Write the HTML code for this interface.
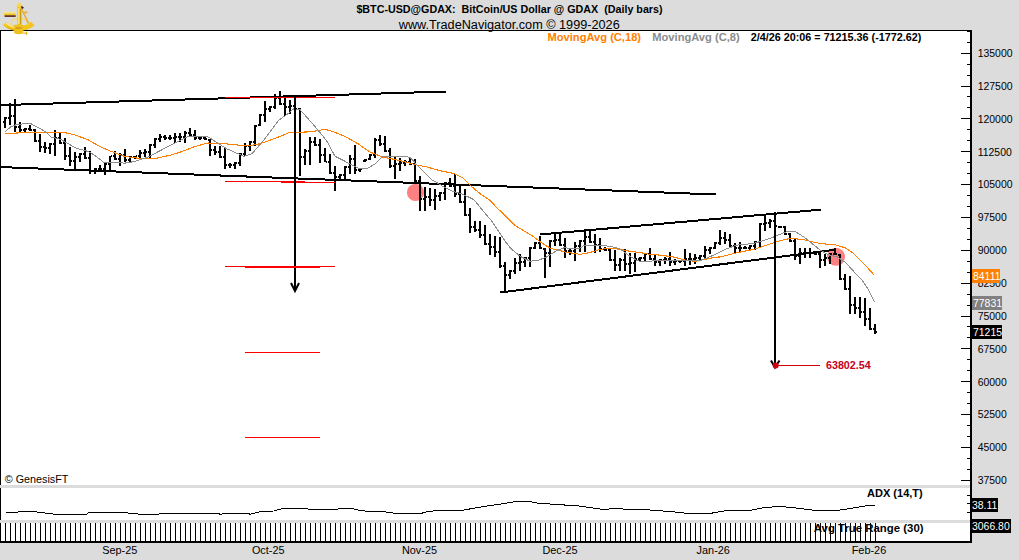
<!DOCTYPE html>
<html><head><meta charset="utf-8"><style>
html,body{margin:0;padding:0;background:#dcdcdc;}
body{width:1019px;height:560px;overflow:hidden;position:relative;font-family:"Liberation Sans",sans-serif;}
svg{position:absolute;left:0;top:0;display:block;}
</style></head><body>
<svg width="1019" height="560" viewBox="0 0 1019 560">
<rect x="1" y="31" width="969" height="510" fill="#fff"/>
<rect x="0" y="485" width="970" height="3" fill="#dcdcdc"/>
<rect x="0" y="520" width="970" height="3" fill="#dcdcdc"/>
<rect x="0" y="30" width="972" height="1" fill="#000"/>
<rect x="0" y="31" width="1" height="454" fill="#000"/>
<rect x="0" y="488" width="1" height="32" fill="#000"/>
<rect x="0" y="523" width="1" height="20" fill="#000"/>
<rect x="970" y="30" width="2" height="513" fill="#000"/>
<rect x="0" y="541" width="972" height="2" fill="#000"/>
<rect x="967" y="31" width="3" height="1" fill="#000"/>
<rect x="967" y="42" width="3" height="1" fill="#000"/>
<rect x="961" y="53" width="9" height="1" fill="#000"/>
<rect x="967" y="64" width="3" height="1" fill="#000"/>
<rect x="967" y="75" width="3" height="1" fill="#000"/>
<rect x="961" y="86" width="9" height="1" fill="#000"/>
<rect x="967" y="96" width="3" height="1" fill="#000"/>
<rect x="967" y="107" width="3" height="1" fill="#000"/>
<rect x="961" y="118" width="9" height="1" fill="#000"/>
<rect x="967" y="129" width="3" height="1" fill="#000"/>
<rect x="967" y="140" width="3" height="1" fill="#000"/>
<rect x="961" y="151" width="9" height="1" fill="#000"/>
<rect x="967" y="162" width="3" height="1" fill="#000"/>
<rect x="967" y="173" width="3" height="1" fill="#000"/>
<rect x="961" y="184" width="9" height="1" fill="#000"/>
<rect x="967" y="195" width="3" height="1" fill="#000"/>
<rect x="967" y="206" width="3" height="1" fill="#000"/>
<rect x="961" y="217" width="9" height="1" fill="#000"/>
<rect x="967" y="228" width="3" height="1" fill="#000"/>
<rect x="967" y="239" width="3" height="1" fill="#000"/>
<rect x="961" y="250" width="9" height="1" fill="#000"/>
<rect x="967" y="261" width="3" height="1" fill="#000"/>
<rect x="967" y="272" width="3" height="1" fill="#000"/>
<rect x="961" y="283" width="9" height="1" fill="#000"/>
<rect x="967" y="294" width="3" height="1" fill="#000"/>
<rect x="967" y="305" width="3" height="1" fill="#000"/>
<rect x="961" y="316" width="9" height="1" fill="#000"/>
<rect x="967" y="326" width="3" height="1" fill="#000"/>
<rect x="967" y="337" width="3" height="1" fill="#000"/>
<rect x="961" y="348" width="9" height="1" fill="#000"/>
<rect x="967" y="359" width="3" height="1" fill="#000"/>
<rect x="967" y="370" width="3" height="1" fill="#000"/>
<rect x="961" y="381" width="9" height="1" fill="#000"/>
<rect x="967" y="392" width="3" height="1" fill="#000"/>
<rect x="967" y="403" width="3" height="1" fill="#000"/>
<rect x="961" y="414" width="9" height="1" fill="#000"/>
<rect x="967" y="425" width="3" height="1" fill="#000"/>
<rect x="967" y="436" width="3" height="1" fill="#000"/>
<rect x="961" y="447" width="9" height="1" fill="#000"/>
<rect x="967" y="458" width="3" height="1" fill="#000"/>
<rect x="967" y="469" width="3" height="1" fill="#000"/>
<rect x="961" y="480" width="9" height="1" fill="#000"/>
<rect x="967" y="469" width="3" height="1" fill="#000"/>
<rect x="967" y="495" width="3" height="1" fill="#000"/>
<rect x="967" y="503" width="3" height="1" fill="#000"/>
<rect x="967" y="512" width="3" height="1" fill="#000"/>
<circle cx="415.5" cy="192.4" r="8.6" fill="#ff8080"/>
<circle cx="836" cy="256.8" r="9" fill="#ff8080"/>
<line x1="0" y1="105.14" x2="446" y2="91.54" stroke="#000" stroke-width="2" shape-rendering="crispEdges"/>
<line x1="0" y1="167.06" x2="716" y2="194.51" stroke="#000" stroke-width="2" shape-rendering="crispEdges"/>
<line x1="500.1" y1="292.53" x2="835.4" y2="249.72" stroke="#000" stroke-width="2" shape-rendering="crispEdges"/>
<line x1="540.1" y1="234.48" x2="821" y2="209.62" stroke="#000" stroke-width="2" shape-rendering="crispEdges"/>
<path d="M4 117h2v11h-2zM3 121h1v2h-1zM6 117h1v2h-1zM9 103h2v22h-2zM8 117h1v2h-1zM11 115h1v2h-1zM14 99h2v33h-2zM13 115h1v2h-1zM16 126h1v2h-1zM19 122h2v10h-2zM18 126h1v2h-1zM21 129h1v2h-1zM24 128h2v4h-2zM23 129h1v2h-1zM26 128h1v2h-1zM29 125h2v6h-2zM28 128h1v2h-1zM31 129h1v2h-1zM34 129h2v13h-2zM33 129h1v2h-1zM36 140h1v2h-1zM39 134h2v18h-2zM38 140h1v2h-1zM41 146h1v2h-1zM44 142h2v11h-2zM43 146h1v2h-1zM46 147h1v2h-1zM49 143h2v11h-2zM48 147h1v2h-1zM51 143h1v2h-1zM54 130h2v26h-2zM53 143h1v2h-1zM56 137h1v2h-1zM59 133h2v11h-2zM58 137h1v2h-1zM61 142h1v2h-1zM64 138h2v22h-2zM63 142h1v2h-1zM66 155h1v2h-1zM69 147h2v19h-2zM68 155h1v2h-1zM71 160h1v2h-1zM74 152h2v17h-2zM73 160h1v2h-1zM76 156h1v2h-1zM79 153h2v9h-2zM78 156h1v2h-1zM81 153h1v2h-1zM84 147h2v12h-2zM83 153h1v2h-1zM86 157h1v2h-1zM89 151h2v23h-2zM88 157h1v2h-1zM91 170h1v2h-1zM94 168h2v6h-2zM93 170h1v2h-1zM96 168h1v2h-1zM99 165h2v7h-2zM98 168h1v2h-1zM101 168h1v2h-1zM104 163h2v12h-2zM103 168h1v2h-1zM106 163h1v2h-1zM109 156h2v14h-2zM108 163h1v2h-1zM111 155h1v2h-1zM114 151h2v9h-2zM113 155h1v2h-1zM116 158h1v2h-1zM119 153h2v13h-2zM118 158h1v2h-1zM121 154h1v2h-1zM124 149h2v13h-2zM123 154h1v2h-1zM126 159h1v2h-1zM129 156h2v7h-2zM128 159h1v2h-1zM131 156h1v2h-1zM134 156h2v3h-2zM133 156h1v2h-1zM136 155h1v2h-1zM139 150h2v9h-2zM138 155h1v2h-1zM141 152h1v2h-1zM144 149h2v8h-2zM143 152h1v2h-1zM146 151h1v2h-1zM149 144h2v15h-2zM148 151h1v2h-1zM151 144h1v2h-1zM154 138h2v10h-2zM153 144h1v2h-1zM156 138h1v2h-1zM159 134h2v8h-2zM158 138h1v2h-1zM161 136h1v2h-1zM164 135h2v5h-2zM163 136h1v2h-1zM166 137h1v2h-1zM169 135h2v5h-2zM168 137h1v2h-1zM171 137h1v2h-1zM174 133h2v10h-2zM173 137h1v2h-1zM176 136h1v2h-1zM179 133h2v9h-2zM178 136h1v2h-1zM181 136h1v2h-1zM184 131h2v12h-2zM183 136h1v2h-1zM186 132h1v2h-1zM189 128h2v9h-2zM188 132h1v2h-1zM191 134h1v2h-1zM194 130h2v10h-2zM193 134h1v2h-1zM196 137h1v2h-1zM199 136h2v4h-2zM198 137h1v2h-1zM201 137h1v2h-1zM204 137h2v3h-2zM203 137h1v2h-1zM206 138h1v2h-1zM209 139h2v17h-2zM208 139h1v2h-1zM211 149h1v2h-1zM214 146h2v9h-2zM213 149h1v2h-1zM216 151h1v2h-1zM219 146h2v12h-2zM218 151h1v2h-1zM221 156h1v2h-1zM224 148h2v21h-2zM223 156h1v2h-1zM226 164h1v2h-1zM229 163h2v5h-2zM228 164h1v2h-1zM231 164h1v2h-1zM234 162h2v7h-2zM233 164h1v2h-1zM236 162h1v2h-1zM239 153h2v13h-2zM238 162h1v2h-1zM241 153h1v2h-1zM244 143h2v13h-2zM243 153h1v2h-1zM246 145h1v2h-1zM249 141h2v10h-2zM248 145h1v2h-1zM251 141h1v2h-1zM254 125h2v21h-2zM253 141h1v2h-1zM256 125h1v2h-1zM259 114h2v12h-2zM258 124h1v2h-1zM261 114h1v2h-1zM264 101h2v21h-2zM263 114h1v2h-1zM266 108h1v2h-1zM269 106h2v6h-2zM268 108h1v2h-1zM271 106h1v2h-1zM274 94h2v15h-2zM273 106h1v2h-1zM276 97h1v2h-1zM279 91h2v14h-2zM278 97h1v2h-1zM281 103h1v2h-1zM284 97h2v19h-2zM283 103h1v2h-1zM286 106h1v2h-1zM289 100h2v14h-2zM288 106h1v2h-1zM291 105h1v2h-1zM294 103h2v7h-2zM293 105h1v2h-1zM296 108h1v2h-1zM299 108h2v68h-2zM298 108h1v2h-1zM301 156h1v2h-1zM304 149h2v16h-2zM303 156h1v2h-1zM306 150h1v2h-1zM309 137h2v28h-2zM308 150h1v2h-1zM311 141h1v2h-1zM314 137h2v9h-2zM313 141h1v2h-1zM316 144h1v2h-1zM319 139h2v24h-2zM318 144h1v2h-1zM321 154h1v2h-1zM324 148h2v14h-2zM323 154h1v2h-1zM326 161h1v2h-1zM329 154h2v20h-2zM328 161h1v2h-1zM331 172h1v2h-1zM334 166h2v25h-2zM333 172h1v2h-1zM336 176h1v2h-1zM339 174h2v6h-2zM338 176h1v2h-1zM341 174h1v2h-1zM344 166h2v14h-2zM343 174h1v2h-1zM346 166h1v2h-1zM349 155h2v19h-2zM348 166h1v2h-1zM351 158h1v2h-1zM354 145h2v29h-2zM353 158h1v2h-1zM356 169h1v2h-1zM359 168h2v4h-2zM358 169h1v2h-1zM361 168h1v2h-1zM364 159h2v3h-2zM363 160h1v2h-1zM366 159h1v2h-1zM369 154h2v6h-2zM368 158h1v2h-1zM371 154h1v2h-1zM374 138h2v20h-2zM373 154h1v2h-1zM376 139h1v2h-1zM379 135h2v11h-2zM378 139h1v2h-1zM381 143h1v2h-1zM384 136h2v16h-2zM383 143h1v2h-1zM386 150h1v2h-1zM389 148h2v20h-2zM388 150h1v2h-1zM391 165h1v2h-1zM394 156h2v23h-2zM393 165h1v2h-1zM396 163h1v2h-1zM399 158h2v13h-2zM398 163h1v2h-1zM401 162h1v2h-1zM404 160h2v6h-2zM403 162h1v2h-1zM406 161h1v2h-1zM409 158h2v7h-2zM408 161h1v2h-1zM411 163h1v2h-1zM414 159h2v23h-2zM413 163h1v2h-1zM416 180h1v2h-1zM419 176h2v35h-2zM418 180h1v2h-1zM421 198h1v2h-1zM424 187h2v24h-2zM423 198h1v2h-1zM426 196h1v2h-1zM429 188h2v18h-2zM428 196h1v2h-1zM431 199h1v2h-1zM434 189h2v21h-2zM433 199h1v2h-1zM436 195h1v2h-1zM439 192h2v9h-2zM438 195h1v2h-1zM441 192h1v2h-1zM444 182h2v18h-2zM443 192h1v2h-1zM446 182h1v2h-1zM449 178h2v9h-2zM448 182h1v2h-1zM451 185h1v2h-1zM454 174h2v23h-2zM453 185h1v2h-1zM456 193h1v2h-1zM459 184h2v19h-2zM458 193h1v2h-1zM461 201h1v2h-1zM464 189h2v27h-2zM463 201h1v2h-1zM466 214h1v2h-1zM469 208h2v25h-2zM468 214h1v2h-1zM471 226h1v2h-1zM474 221h2v11h-2zM473 226h1v2h-1zM476 229h1v2h-1zM479 221h2v17h-2zM478 229h1v2h-1zM481 234h1v2h-1zM484 225h2v20h-2zM483 234h1v2h-1zM486 243h1v2h-1zM489 234h2v21h-2zM488 243h1v2h-1zM491 246h1v2h-1zM494 236h2v21h-2zM493 246h1v2h-1zM496 251h1v2h-1zM499 237h2v31h-2zM498 251h1v2h-1zM501 265h1v2h-1zM504 262h2v29h-2zM503 265h1v2h-1zM506 274h1v2h-1zM509 270h2v9h-2zM508 274h1v2h-1zM511 270h1v2h-1zM514 258h2v16h-2zM513 270h1v2h-1zM516 262h1v2h-1zM519 254h2v17h-2zM518 262h1v2h-1zM521 261h1v2h-1zM524 257h2v10h-2zM523 261h1v2h-1zM526 257h1v2h-1zM529 247h2v20h-2zM528 257h1v2h-1zM531 247h1v2h-1zM534 242h2v7h-2zM533 247h1v2h-1zM536 242h1v2h-1zM539 236h2v13h-2zM538 242h1v2h-1zM541 247h1v2h-1zM544 248h2v30h-2zM543 248h1v2h-1zM546 252h1v2h-1zM549 240h2v27h-2zM548 252h1v2h-1zM551 240h1v2h-1zM554 234h2v12h-2zM553 240h1v2h-1zM556 239h1v2h-1zM559 233h2v13h-2zM558 239h1v2h-1zM561 244h1v2h-1zM564 238h2v20h-2zM563 244h1v2h-1zM566 250h1v2h-1zM569 248h2v7h-2zM568 250h1v2h-1zM571 250h1v2h-1zM574 242h2v19h-2zM573 250h1v2h-1zM576 245h1v2h-1zM579 240h2v12h-2zM578 245h1v2h-1zM581 240h1v2h-1zM584 229h2v23h-2zM583 240h1v2h-1zM586 236h1v2h-1zM589 231h2v12h-2zM588 236h1v2h-1zM591 241h1v2h-1zM594 234h2v19h-2zM593 241h1v2h-1zM596 244h1v2h-1zM599 238h2v14h-2zM598 244h1v2h-1zM601 248h1v2h-1zM604 247h2v4h-2zM603 248h1v2h-1zM606 249h1v2h-1zM609 248h2v13h-2zM608 249h1v2h-1zM611 259h1v2h-1zM614 250h2v21h-2zM613 259h1v2h-1zM616 264h1v2h-1zM619 258h2v13h-2zM618 264h1v2h-1zM621 259h1v2h-1zM624 249h2v22h-2zM623 259h1v2h-1zM626 263h1v2h-1zM629 253h2v21h-2zM628 263h1v2h-1zM631 262h1v2h-1zM634 253h2v19h-2zM633 262h1v2h-1zM636 258h1v2h-1zM639 257h2v4h-2zM638 258h1v2h-1zM641 257h1v2h-1zM644 253h2v9h-2zM643 257h1v2h-1zM646 253h1v2h-1zM649 248h2v12h-2zM648 253h1v2h-1zM651 258h1v2h-1zM654 255h2v11h-2zM653 258h1v2h-1zM656 261h1v2h-1zM659 259h2v7h-2zM658 261h1v2h-1zM661 259h1v2h-1zM664 257h2v7h-2zM663 259h1v2h-1zM666 258h1v2h-1zM669 252h2v14h-2zM668 258h1v2h-1zM671 261h1v2h-1zM674 259h2v6h-2zM673 261h1v2h-1zM676 260h1v2h-1zM679 260h2v3h-2zM678 260h1v2h-1zM681 260h1v2h-1zM684 249h2v17h-2zM683 260h1v2h-1zM686 258h1v2h-1zM689 253h2v12h-2zM688 258h1v2h-1zM691 258h1v2h-1zM694 254h2v10h-2zM693 258h1v2h-1zM696 257h1v2h-1zM699 255h2v6h-2zM698 257h1v2h-1zM701 255h1v2h-1zM704 246h2v13h-2zM703 255h1v2h-1zM706 249h1v2h-1zM709 247h2v7h-2zM708 249h1v2h-1zM711 247h1v2h-1zM714 242h2v7h-2zM713 247h1v2h-1zM716 242h1v2h-1zM719 230h2v15h-2zM718 242h1v2h-1zM721 237h1v2h-1zM724 232h2v12h-2zM723 237h1v2h-1zM726 239h1v2h-1zM729 234h2v13h-2zM728 239h1v2h-1zM731 245h1v2h-1zM734 243h2v11h-2zM733 245h1v2h-1zM736 247h1v2h-1zM739 242h2v11h-2zM738 247h1v2h-1zM741 247h1v2h-1zM744 246h2v3h-2zM743 247h1v2h-1zM746 247h1v2h-1zM749 245h2v6h-2zM748 247h1v2h-1zM751 245h1v2h-1zM754 241h2v9h-2zM753 245h1v2h-1zM756 241h1v2h-1zM759 223h2v24h-2zM758 241h1v2h-1zM761 223h1v2h-1zM764 214h2v17h-2zM763 223h1v2h-1zM766 222h1v2h-1zM769 219h2v9h-2zM768 222h1v2h-1zM771 220h1v2h-1zM774 214h2v13h-2zM773 220h1v2h-1zM776 225h1v2h-1zM779 226h2v2h-2zM778 226h1v2h-1zM781 226h1v2h-1zM784 226h2v9h-2zM783 226h1v2h-1zM786 233h1v2h-1zM789 233h2v9h-2zM788 233h1v2h-1zM791 240h1v2h-1zM794 239h2v21h-2zM793 240h1v2h-1zM796 255h1v2h-1zM799 248h2v16h-2zM798 255h1v2h-1zM801 252h1v2h-1zM804 248h2v10h-2zM803 252h1v2h-1zM806 252h1v2h-1zM809 248h2v10h-2zM808 252h1v2h-1zM811 252h1v2h-1zM814 251h2v4h-2zM813 252h1v2h-1zM816 253h1v2h-1zM819 253h2v15h-2zM818 253h1v2h-1zM821 259h1v2h-1zM824 254h2v12h-2zM823 259h1v2h-1zM826 257h1v2h-1zM829 253h2v11h-2zM828 257h1v2h-1zM831 253h1v2h-1zM834 248h2v7h-2zM833 253h1v2h-1zM836 253h1v2h-1zM839 254h2v26h-2zM838 254h1v2h-1zM841 278h1v2h-1zM844 274h2v16h-2zM843 278h1v2h-1zM846 288h1v2h-1zM849 276h2v38h-2zM848 288h1v2h-1zM851 304h1v2h-1zM854 297h2v17h-2zM853 304h1v2h-1zM856 307h1v2h-1zM859 297h2v21h-2zM858 307h1v2h-1zM861 311h1v2h-1zM864 298h2v28h-2zM863 311h1v2h-1zM866 318h1v2h-1zM869 308h2v22h-2zM868 318h1v2h-1zM871 328h1v2h-1zM874 324h2v10h-2zM873 328h1v2h-1zM876 331h1v2h-1z" fill="#000"/>
<polyline points="5,133.5 20,132.9 35,132.9 45,132.2 63,132.2 76,135.2 88,139.8 100,146.6 110,151 125,156.5 140,158.4 156,158.3 171,155 180,152.2 195,146.5 208,143 226,143.9 244,145.7 256,144.8 265,142.1 279,136.8 290,132.3 300,132.2 311,131.8 325,129.3 332,131.3 345,136.3 358,143.8 370,151.9 382,156.9 400,160.6 406,162.1 416,164.8 427,167 440,170.7 454.3,173.6 462.9,177.9 471.4,186.4 480,193.6 488.6,199.3 497.1,207.9 505.7,216.4 514.3,225 520,228.5 532,235.7 543,243.8 551,248.6 559,250.2 567,252.6 575,253.4 580,254.4 590,252.5 600,249.4 610,248.1 620,249.4 630,251.3 640,252.5 650,254.4 659,255 674,257.1 685,260 695,261.4 705,259.3 716,257.1 720,257 737,252.7 754,249.3 770,244.1 779.6,240.9 789.3,238.5 802.2,239.3 815,242.5 823,243.8 835.9,244.9 845.6,248.1 852,252.2 860,260.2 868.1,268.2 874.5,275.5" fill="none" stroke="#ff8000" stroke-width="1.1" shape-rendering="crispEdges"/>
<polyline points="5,131.8 11,126.6 17,124.5 30,123.3 40,128.4 47,132.9 51,137 61,139.5 76,148.1 88,151.4 95,155.5 100,159.5 104,162.5 118,162.7 125,163.1 134,161.6 148,157 163,149.2 177,142 189,136 195,136.6 208,136.8 226,148.4 244,156.4 252,153.8 265,138.6 279,120 287,114.5 294,108.6 300,109.6 313,124.3 320,132.5 327,141.3 335,156.3 345,161.3 358,168.1 367,168.8 375,163.8 382,156.9 390,156.3 400,156 410,157.3 416,163.8 424,171.8 431,179.3 436.8,182.5 443.9,187 452.9,191.4 460,193.2 470,197.7 474.3,200 482.9,210.7 491.4,220.7 500,233.6 505.7,242 511,248.6 520,256.2 530,261.2 537,260.6 546,257.4 556,251 564,247.8 575,248.6 580,248.1 585,245 595,245 610,246.3 620,248.8 630,256.3 637,260.6 645,262 659,260 674,260 688,260.7 702,260 714,255 725,249.3 737,245.1 754,243.4 770,238.5 779.6,234.5 787.7,231.3 795.7,232 803.8,236.9 811.8,243.3 819.8,249.7 827.9,254.6 837.5,257 845.6,262.6 855.2,273 861.6,279.5 868,289 874.5,302" fill="none" stroke="#8c8c8c" stroke-width="1.0" shape-rendering="crispEdges"/>
<rect x="225" y="97" width="110" height="1" fill="#ff0000"/>
<rect x="225" y="181" width="80" height="1" fill="#ff0000"/>
<rect x="281" y="182" width="54" height="1" fill="#ff0000"/>
<rect x="245" y="352" width="75" height="1" fill="#ff0000"/>
<rect x="245" y="437" width="75" height="1" fill="#ff0000"/>
<rect x="294" y="96" width="2" height="195" fill="#000"/>
<path d="M291 283 L295 291 L299 283" fill="none" stroke="#000" stroke-width="2"/>
<rect x="225" y="266" width="110" height="1" fill="#ff0000"/>
<rect x="245" y="267" width="75" height="1" fill="#ff0000"/>
<rect x="774" y="212" width="2" height="155" fill="#000"/>
<path d="M771 360.5 L775 367.5 L779.5 360.5" fill="none" stroke="#000" stroke-width="2"/>
<rect x="775" y="365" width="45" height="1" fill="#d00010"/>
<circle cx="775.7" cy="365.5" r="3" fill="#d00010"/>
<polyline points="5.5,513.3 8.8,512.2 27.6,511.8 30.9,511.1 35.3,511.8 43,512.7 53,514 87.2,514 88.3,512.9 103.8,512.2 112.6,512.7 132.5,513.1 143.5,514.9 157.8,514.9 159,514 183.2,513.1 217.4,513.3 220.8,514.4 225,513.2 247.1,513.2 250.4,514.3 258.1,512.1 273.6,511 283.5,508.3 306.7,508.3 308.9,509.4 337.6,509.4 338.7,508.1 351.9,508.3 358.6,510.3 368.5,511.4 382.8,511.6 392.8,513 422.6,513 428.1,511.4 439.1,510.5 450,510.3 462.1,510.3 483.1,506.6 503,503.7 518.4,501 527.3,501 538.3,503.2 553.8,504.3 578,505.9 602.3,509.4 620,508.3 624.4,509.4 648.7,509.9 675,512 683.8,513 712.5,513 723.6,511 747.8,510.8 763.3,507.7 778.8,506.4 789.8,507.3 811.9,510 834,511 851.6,508.2 869.3,505.3 874.8,505.3" fill="none" stroke="#000" stroke-width="1" shape-rendering="crispEdges"/>
<path d="M5 523h1v18h-1zM10 523h1v18h-1zM15 523h1v18h-1zM20 523h1v18h-1zM25 523h1v18h-1zM30 523h1v18h-1zM35 523h1v18h-1zM40 523h1v18h-1zM45 523h1v18h-1zM50 523h1v18h-1zM55 523h1v18h-1zM60 523h1v18h-1zM65 523h1v18h-1zM70 523h1v18h-1zM75 523h1v18h-1zM80 523h1v18h-1zM85 523h1v18h-1zM90 523h1v18h-1zM95 523h1v18h-1zM100 523h1v18h-1zM105 523h1v18h-1zM110 523h1v18h-1zM115 523h1v18h-1zM120 523h1v18h-1zM125 523h1v18h-1zM130 523h1v18h-1zM135 523h1v18h-1zM140 523h1v18h-1zM145 523h1v18h-1zM150 523h1v18h-1zM155 523h1v18h-1zM160 523h1v18h-1zM165 523h1v18h-1zM170 523h1v18h-1zM175 523h1v18h-1zM180 523h1v18h-1zM185 523h1v18h-1zM190 523h1v18h-1zM195 523h1v18h-1zM200 523h1v18h-1zM205 523h1v18h-1zM210 523h1v18h-1zM215 523h1v18h-1zM220 523h1v18h-1zM225 523h1v18h-1zM230 523h1v18h-1zM235 523h1v18h-1zM240 523h1v18h-1zM245 523h1v18h-1zM250 523h1v18h-1zM255 523h1v18h-1zM260 523h1v18h-1zM265 523h1v18h-1zM270 523h1v18h-1zM275 523h1v18h-1zM280 523h1v18h-1zM285 523h1v18h-1zM290 523h1v18h-1zM295 523h1v18h-1zM300 523h1v18h-1zM305 523h1v18h-1zM310 523h1v18h-1zM315 523h1v18h-1zM320 523h1v18h-1zM325 523h1v18h-1zM330 523h1v18h-1zM335 523h1v18h-1zM340 523h1v18h-1zM345 523h1v18h-1zM350 523h1v18h-1zM355 523h1v18h-1zM360 523h1v18h-1zM365 523h1v18h-1zM370 523h1v18h-1zM375 523h1v18h-1zM380 523h1v18h-1zM385 523h1v18h-1zM390 523h1v18h-1zM395 523h1v18h-1zM400 523h1v18h-1zM405 523h1v18h-1zM410 523h1v18h-1zM415 523h1v18h-1zM420 523h1v18h-1zM425 523h1v18h-1zM430 523h1v18h-1zM435 523h1v18h-1zM440 523h1v18h-1zM445 523h1v18h-1zM450 523h1v18h-1zM455 523h1v18h-1zM460 523h1v18h-1zM465 523h1v18h-1zM470 523h1v18h-1zM475 523h1v18h-1zM480 523h1v18h-1zM485 523h1v18h-1zM490 523h1v18h-1zM495 523h1v18h-1zM500 523h1v18h-1zM505 523h1v18h-1zM510 523h1v18h-1zM515 523h1v18h-1zM520 523h1v18h-1zM525 523h1v18h-1zM530 523h1v18h-1zM535 523h1v18h-1zM540 523h1v18h-1zM545 523h1v18h-1zM550 523h1v18h-1zM555 523h1v18h-1zM560 523h1v18h-1zM565 523h1v18h-1zM570 523h1v18h-1zM575 523h1v18h-1zM580 523h1v18h-1zM585 523h1v18h-1zM590 523h1v18h-1zM595 523h1v18h-1zM600 523h1v18h-1zM605 523h1v18h-1zM610 523h1v18h-1zM615 523h1v18h-1zM620 523h1v18h-1zM625 523h1v18h-1zM630 523h1v18h-1zM635 523h1v18h-1zM640 523h1v18h-1zM645 523h1v18h-1zM650 523h1v18h-1zM655 523h1v18h-1zM660 523h1v18h-1zM665 523h1v18h-1zM670 523h1v18h-1zM675 523h1v18h-1zM680 523h1v18h-1zM685 523h1v18h-1zM690 523h1v18h-1zM695 523h1v18h-1zM700 523h1v18h-1zM705 523h1v18h-1zM710 523h1v18h-1zM715 523h1v18h-1zM720 523h1v18h-1zM725 523h1v18h-1zM730 523h1v18h-1zM735 523h1v18h-1zM740 523h1v18h-1zM745 523h1v18h-1zM750 523h1v18h-1zM755 523h1v18h-1zM760 523h1v18h-1zM765 523h1v18h-1zM770 523h1v18h-1zM775 523h1v18h-1zM780 523h1v18h-1zM785 523h1v18h-1zM790 523h1v18h-1zM795 523h1v18h-1zM800 523h1v18h-1zM805 523h1v18h-1zM810 523h1v18h-1zM815 523h1v18h-1zM820 523h1v18h-1zM825 523h1v18h-1zM830 523h1v18h-1zM835 523h1v18h-1zM840 523h1v18h-1zM845 523h1v18h-1zM850 523h1v18h-1zM855 523h1v18h-1zM860 523h1v18h-1zM865 523h1v18h-1zM870 523h1v18h-1zM875 523h1v18h-1z" fill="#000"/>
<text x="977.7" y="57.0" font-family="Liberation Sans" font-size="10.45" font-weight="normal" fill="#000" text-anchor="start">135000</text>
<text x="977.7" y="89.85000000000001" font-family="Liberation Sans" font-size="10.45" font-weight="normal" fill="#000" text-anchor="start">127500</text>
<text x="977.7" y="122.7" font-family="Liberation Sans" font-size="10.45" font-weight="normal" fill="#000" text-anchor="start">120000</text>
<text x="977.7" y="155.55" font-family="Liberation Sans" font-size="10.45" font-weight="normal" fill="#000" text-anchor="start">112500</text>
<text x="977.7" y="188.40000000000003" font-family="Liberation Sans" font-size="10.45" font-weight="normal" fill="#000" text-anchor="start">105000</text>
<text x="977.7" y="221.25" font-family="Liberation Sans" font-size="10.45" font-weight="normal" fill="#000" text-anchor="start">97500</text>
<text x="977.7" y="254.10000000000002" font-family="Liberation Sans" font-size="10.45" font-weight="normal" fill="#000" text-anchor="start">90000</text>
<text x="977.7" y="286.95" font-family="Liberation Sans" font-size="10.45" font-weight="normal" fill="#000" text-anchor="start">82500</text>
<text x="977.7" y="319.8" font-family="Liberation Sans" font-size="10.45" font-weight="normal" fill="#000" text-anchor="start">75000</text>
<text x="977.7" y="352.65" font-family="Liberation Sans" font-size="10.45" font-weight="normal" fill="#000" text-anchor="start">67500</text>
<text x="977.7" y="385.5" font-family="Liberation Sans" font-size="10.45" font-weight="normal" fill="#000" text-anchor="start">60000</text>
<text x="977.7" y="418.35" font-family="Liberation Sans" font-size="10.45" font-weight="normal" fill="#000" text-anchor="start">52500</text>
<text x="977.7" y="451.2" font-family="Liberation Sans" font-size="10.45" font-weight="normal" fill="#000" text-anchor="start">45000</text>
<text x="977.7" y="484.05" font-family="Liberation Sans" font-size="10.45" font-weight="normal" fill="#000" text-anchor="start">37500</text>
<rect x="972" y="269" width="28" height="14" fill="#ff8000"/>
<text x="973" y="280" font-family="Liberation Sans" font-size="10.45" font-weight="normal" fill="#fff" text-anchor="start">84111</text>
<rect x="972" y="296" width="30" height="14" fill="#808080"/>
<text x="973" y="307" font-family="Liberation Sans" font-size="10.45" font-weight="normal" fill="#fff" text-anchor="start">77831</text>
<rect x="972" y="325" width="30" height="14" fill="#000"/>
<text x="973" y="336" font-family="Liberation Sans" font-size="10.45" font-weight="normal" fill="#fff" text-anchor="start">71215</text>
<rect x="971" y="498" width="27" height="14" fill="#000"/>
<text x="972" y="509" font-family="Liberation Sans" font-size="10.45" font-weight="normal" fill="#fff" text-anchor="start">38.11</text>
<rect x="971" y="519" width="40" height="14" fill="#000"/>
<text x="972" y="530" font-family="Liberation Sans" font-size="10.45" font-weight="normal" fill="#fff" text-anchor="start">3066.80</text>
<text x="102.2" y="554.0" font-family="Liberation Sans" font-size="10.9" font-weight="normal" fill="#000" text-anchor="start">Sep-25</text>
<text x="251.9" y="554.0" font-family="Liberation Sans" font-size="10.9" font-weight="normal" fill="#000" text-anchor="start">Oct-25</text>
<text x="401.9" y="554.0" font-family="Liberation Sans" font-size="10.9" font-weight="normal" fill="#000" text-anchor="start">Nov-25</text>
<text x="542.4" y="554.0" font-family="Liberation Sans" font-size="10.9" font-weight="normal" fill="#000" text-anchor="start">Dec-25</text>
<text x="696.6" y="554.0" font-family="Liberation Sans" font-size="10.9" font-weight="normal" fill="#000" text-anchor="start">Jan-26</text>
<text x="851.7" y="554.0" font-family="Liberation Sans" font-size="10.9" font-weight="normal" fill="#000" text-anchor="start">Feb-26</text>
<text x="4.8" y="482.9" font-family="Liberation Sans" font-size="10.75" font-weight="normal" fill="#000" text-anchor="start">© GenesisFT</text>
<text x="867.1" y="497.1" font-family="Liberation Sans" font-size="11" font-weight="bold" fill="#000" text-anchor="start">ADX (14,T)</text>
<text x="813.8" y="532.4" font-family="Liberation Sans" font-size="11.4" font-weight="bold" fill="#000" text-anchor="start">Avg True Range (30)</text>
<text x="826" y="369" font-family="Liberation Sans" font-size="10.7" font-weight="bold" fill="#c8001a" text-anchor="start">63802.54</text>
<text x="509.5" y="12.6" font-family="Liberation Sans" font-size="10.73" font-weight="bold" fill="#000" text-anchor="middle">$BTC-USD@GDAX:&#160; BitCoin/US Dollar @ GDAX&#160; (Daily bars)</text>
<text x="509.25" y="29" font-family="Liberation Sans" font-size="12.68" font-weight="normal" fill="#000" text-anchor="middle">www.TradeNavigator.com © 1999-2026</text>
<text x="547.5" y="40.9" font-family="Liberation Sans" font-size="11.13" font-weight="bold" fill="#ff8000" text-anchor="start">MovingAvg (C,18)</text>
<text x="652.3" y="40.9" font-family="Liberation Sans" font-size="11.13" font-weight="bold" fill="#8c8c8c" text-anchor="start">MovingAvg (C,8)</text>
<text x="750.8" y="40.9" font-family="Liberation Sans" font-size="10.79" font-weight="bold" fill="#000" text-anchor="start">2/4/26 20:06 = 71215.36 (-1772.62)</text>
<g>
<path d="M3 25.3 Q9 30.8 18.5 31 Q28 30.8 34.6 25.5 L31 21.8 Q25 26.6 18.5 26.6 Q12 26.6 5.9 22.3 Z" fill="#f2c41e"/>
<path d="M6 23.3 Q11 26.8 15 27.8" stroke="#fff0a0" stroke-width="1.1" fill="none"/>
<path d="M7 27 Q12 30 16 30.8" stroke="#c89010" stroke-width="0.6" fill="none"/>
<path d="M11 24.5 Q10.2 19.2 17.5 18.6 M21 18.6 Q28.2 19.2 28.2 25" stroke="#f6d860" stroke-width="1.3" fill="none"/>
<path d="M21.6 9 L28.6 23.6" stroke="#e6ac30" stroke-width="1.5"/>
<rect x="24" y="11.5" width="3.5" height="1.8" fill="#e6b040"/>
<rect x="17.3" y="6.5" width="4" height="19" fill="#f0c21e"/>
<rect x="18.2" y="8" width="1.2" height="16" fill="#ffe680"/>
<rect x="20.3" y="9" width="0.9" height="15" fill="#b88a10"/>
<path d="M16.3 6.8 L18.3 2.8 L20.8 3.2 L22.6 6.8 Z" fill="#f6d650"/>
<path d="M21.3 5.8 L23.9 7.4 L22.6 9 L21.3 8.2 Z" fill="#3c1238"/>
<rect x="4" y="11.8" width="11.7" height="1.8" fill="#fbe47c"/>
<rect x="4" y="13.6" width="11.7" height="1.9" fill="#f0c21e"/>
<rect x="4.6" y="15.4" width="11.1" height="1.4" fill="#4a1008"/>
<path d="M14.1 24.7 H23.2 V33.2 Q18.6 35.3 14.1 33.2 Z" fill="#eec21e"/>
<rect x="15.5" y="27.5" width="6" height="1" fill="#d07a20"/>
<rect x="23.2" y="32.6" width="3.4" height="1.1" fill="#e0b020"/>
<rect x="26" y="31.6" width="1.2" height="3.3" fill="#e0b020"/>
</g>
</svg>
</body></html>
